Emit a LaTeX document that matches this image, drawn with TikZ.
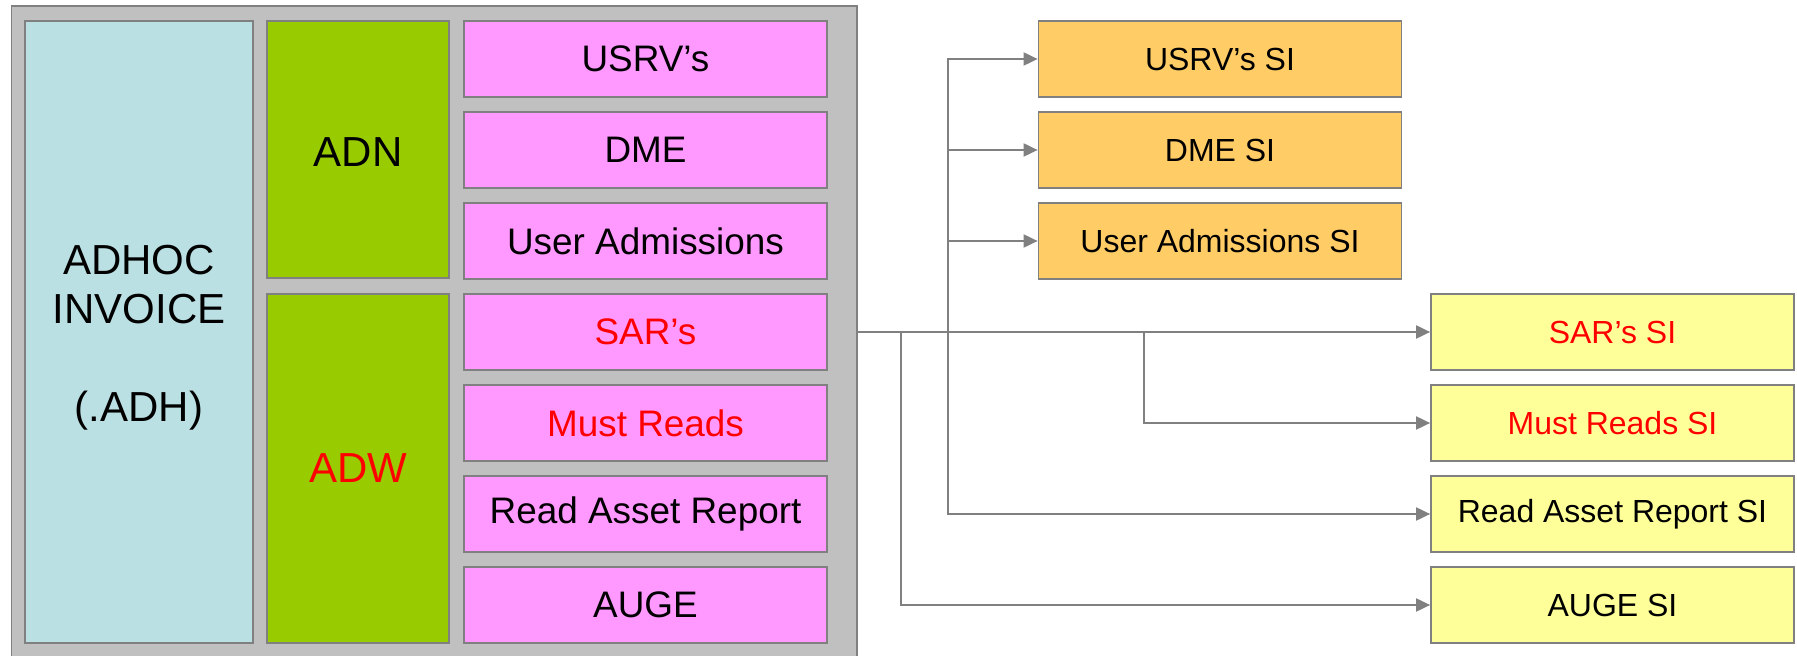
\documentclass[tikz,border=0pt]{standalone}
\usepackage{fontspec}
\setmainfont{Liberation Sans}
\usetikzlibrary{arrows.meta}

\definecolor{framegray}{HTML}{C0C0C0}
\definecolor{edgegray}{HTML}{808080}
\definecolor{invcyan}{HTML}{BBE0E3}
\definecolor{grpgreen}{HTML}{99CC00}
\definecolor{itempink}{HTML}{FF99FF}
\definecolor{siorange}{HTML}{FFCC66}
\definecolor{siyellow}{HTML}{FFFF99}

\begin{document}
\begin{tikzpicture}[
        semithick % line style
    ]
    \tikzstyle{every box}=[
        draw = edgegray,
        line width = 1pt,
        inner sep = 0pt,
        align = center
    ]

    \tikzstyle{item box}=[
        every box,
        fill = itempink,
        minimum width = 7.26cm,
        minimum height = 1.52cm,
        font = \fontsize{21}{25}\selectfont
    ]

    \tikzstyle{si box}=[
        every box,
        minimum width = 7.26cm,
        minimum height = 1.52cm,
        font = \fontsize{18.2}{22}\selectfont
    ]

    \tikzstyle{link}=[
        draw = edgegray,
        line width = 1.1pt,
        -{Triangle[length=2.8mm, width=2.6mm]}
    ]

    \useasboundingbox (0, 0) rectangle (35.94, 13.1);

    % frame and left column
    \node[every box, fill = framegray, minimum width = 16.91cm, minimum height = 13.18cm] (frame) at (8.685, 6.39) {};
    \node[every box, fill = invcyan, minimum width = 4.56cm, minimum height = 12.44cm,
          label = {[align = center, yshift = -0.11cm, font = \fontsize{23.9}{27.9}\selectfont]center:ADHOC\\INVOICE\\~\\(.ADH)}] (adh) at (2.78, 6.46) {};
    \node[every box, fill = grpgreen, minimum width = 3.64cm, minimum height = 5.14cm,
          label = {[yshift = -0.05cm, font = \fontsize{23.9}{27.9}\selectfont]center:ADN}] (adn) at (7.16, 10.11) {};
    \node[every box, fill = grpgreen, minimum width = 3.64cm, minimum height = 6.98cm,
          font = \fontsize{23.9}{27.9}\selectfont, text = red] (adw) at (7.16, 3.73) {ADW};

    \node[item box] (usrv)  at (12.91, 11.92) {USRV’s};
    \node[item box] (dme)   at (12.91, 10.10) {DME};
    \node[item box] (ua)    at (12.91, 8.28)  {User Admissions};
    \node[item box, text = red] (sar)  at (12.91, 6.46) {SAR’s};
    \node[item box, text = red] (must) at (12.91, 4.64) {Must Reads};
    \node[item box] (rar)   at (12.91, 2.82)  {Read Asset Report};
    \node[item box] (auge)  at (12.91, 1.00)  {AUGE};

    % SI boxes
    \node[si box, fill = siorange] (usrvsi) at (24.40, 11.92) {USRV’s SI};
    \node[si box, fill = siorange] (dmesi)  at (24.40, 10.10) {DME SI};
    \node[si box, fill = siorange] (uasi)   at (24.40, 8.28)  {User Admissions SI};
    \node[si box, fill = siyellow, text = red] (sarsi)  at (32.25, 6.46) {SAR’s SI};
    \node[si box, fill = siyellow, text = red] (mustsi) at (32.25, 4.64) {Must Reads SI};
    \node[si box, fill = siyellow] (rarsi)  at (32.25, 2.82) {Read Asset Report SI};
    \node[si box, fill = siyellow] (augesi) at (32.25, 1.00) {AUGE SI};

    \coordinate (ja) at (18.96, 6.46);
    \coordinate (jb) at (18.02, 6.46);
    \coordinate (jc) at (22.88, 6.46);

    \draw[link] (frame.east |- sar) -- (sarsi);
    \draw[link] (ja) |- (usrvsi);
    \draw[link] (ja) |- (dmesi);
    \draw[link] (ja) |- (uasi);
    \draw[link] (ja) |- (rarsi);
    \draw[link] (jb) |- (augesi);
    \draw[link] (jc) |- (mustsi);

\end{tikzpicture}
\end{document}
